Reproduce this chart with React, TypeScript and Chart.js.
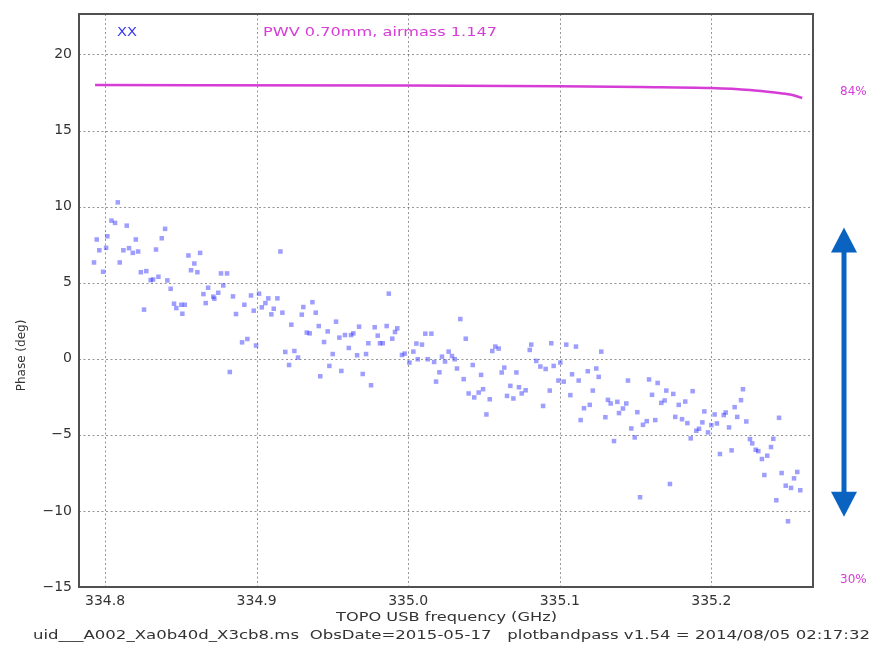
import { useEffect, useRef } from 'react';
import { Chart, registerables } from 'chart.js';

Chart.register(...registerables);

// XX-polarisation bandpass phase per channel
const FREQ_GHZ = [
  334.8084, 334.8042, 334.8066, 334.8143, 334.8396, 334.7945, 334.8015, 334.8203, 334.8374, 334.7962,
  334.8007, 334.8121, 334.8158, 334.8183, 334.8218, 334.8336, 334.7927, 334.8097, 334.7987, 334.8236,
  334.8272, 334.8301, 334.8317, 334.8352, 334.8411, 334.8433, 334.8550, 334.8627, 334.8589, 334.8567,
  334.8609, 334.8680, 334.8649, 334.8664, 334.8257, 334.8455, 334.8470, 334.8503, 334.8526, 334.8510,
  334.9157, 334.8765, 334.8805, 334.8780, 334.8714, 334.8721, 334.8747, 334.8844, 334.8963, 334.9016,
  334.9077, 334.9137, 334.8919, 334.9058, 334.9034, 334.8981, 334.9113, 334.9097, 334.9170, 334.8864,
  334.9298, 334.9308, 334.9368, 334.9390, 334.9229, 334.9410, 334.9331, 334.9350, 334.9469, 334.9445,
  334.8904, 334.8939, 334.8996, 334.9189, 334.9249, 334.9273, 334.9214, 334.9480, 334.9420, 334.8823,
  334.9872, 334.9524, 334.9676, 334.9779, 334.9858, 334.9928, 334.9546, 334.9583, 334.9623, 334.9638,
  334.9799, 334.9895, 334.9913, 334.9737, 334.9814, 334.9832, 334.9608, 334.9502, 334.9663, 334.9722,
  334.9959, 334.9977, 335.0034, 335.0054, 335.0091, 335.0113, 335.0153, 335.0008, 335.0063, 335.0129,
  335.0171, 335.0223, 335.0243, 335.0267, 334.9559, 334.9700, 334.9755, 335.0206, 335.0184,
  335.0344, 335.0380, 335.0289, 335.0307, 335.0322, 335.0426, 335.0366, 335.0481, 335.0399, 335.0436,
  335.0465, 335.0494, 335.0538, 335.0516, 335.0555, 335.0575, 335.0597, 335.0617, 335.0634, 335.0674,
  335.0652, 335.0694, 335.0714, 335.0731, 335.0749, 335.0775, 335.0802, 335.0812, 335.0845, 335.0872,
  335.0907, 335.0890, 335.0934, 335.0944, 335.0960, 335.1004, 335.0991, 335.1026, 335.1043, 335.1081,
  335.1070,
  335.1107, 335.1274, 335.1125, 335.1185, 335.1241, 335.1257, 335.1218, 335.1160, 335.1198, 335.1138,
  335.1301, 335.1318, 335.1336, 335.1380, 335.1391, 335.1417, 335.1439, 335.1358, 335.1450, 335.1472,
  335.1495, 335.1512, 335.1549, 335.1574, 335.1589, 335.1609, 335.1630, 335.1646, 335.1670, 335.1692,
  335.1703, 335.1749, 335.1762, 335.1785, 335.1807, 335.1828, 335.1842, 335.1877, 335.1864, 335.1727,
  335.1530,
  335.1954, 335.1941, 335.1901, 335.1919, 335.1978, 335.2000, 335.2022, 335.2037, 335.2057, 335.2082,
  335.2095, 335.2117, 335.2134, 335.2154, 335.2171, 335.2196, 335.2209, 335.2231, 335.2255, 335.2270,
  335.2293, 335.2310, 335.2334, 335.2350, 335.2369, 335.2394, 335.2409, 335.2429, 335.2447, 335.2464,
  335.2491, 335.2526, 335.2546, 335.2567, 335.2587, 335.2506,
];

const PHASE_DEG = [
  10.28, 9.08, 8.93, 8.75, 8.54, 7.84, 8.05, 7.84, 7.92, 7.13,
  7.29, 7.13, 7.27, 6.96, 7.05, 7.18, 6.33, 6.33, 5.72, 5.69,
  5.76, 5.17, 5.21, 5.39, 5.15, 4.60, 6.79, 6.96, 6.26, 5.82,
  5.69, 4.67, 4.25, 3.66, 3.23, 3.62, 3.33, 3.55, 3.55, 2.96,
  7.05, 5.61, 5.61, 4.82, 4.08, 3.95, 4.34, 4.10, 4.16, 4.28,
  3.97, 3.97, 3.55, 3.66, 3.38, 3.16, 3.29, 2.92, 3.03, 2.94,
  2.90, 3.40, 3.72, 3.03, 2.24, 2.15, 1.72, 1.67, 1.80, 1.10,
  1.08, 1.30, 0.87, 0.45, 0.51, 0.08, -0.41, -0.47, -1.15, -0.87,
  4.28, 2.44, 2.11, 2.07, 2.15, 2.00, 1.39, 1.56, 1.56, 1.67,
  1.52, 1.32, 1.76, 1.02, 1.02, 1.02, 0.71, 0.31, 0.23, 0.31,
  0.25, 0.34, 0.47, 1.00, 0.93, 1.65, 1.65, -0.25, -0.03, -0.03,
  -0.21, 0.14, -0.18, 0.47, -0.80, -1.00, -1.74, -0.89, -1.50,
  2.61, 1.32, 0.18, -0.03, -0.64, -0.41, -1.34, -1.06, -2.28, -2.54,
  -2.22, -2.00, -2.66, -3.66, 0.51, 0.80, 0.67, -0.90, -0.58, -1.78,
  -2.44, -2.61, -0.90, -1.87, -2.28, -2.07, 0.58, 0.93, -0.14, -0.51,
  -0.67, -3.10, -2.09, 1.02, -0.47, -0.25, -1.43, -1.50, 0.93, -1.02,
  -2.39,
  0.80, 0.47, -1.43, -0.82, -0.64, -1.19, -2.09, -3.25, -3.03, -4.03,
  -3.84, -2.70, -2.94, -2.83, -3.57, -3.27, -2.94, -5.41, -1.43, -4.58,
  -5.17, -3.51, -4.34, -4.10, -1.36, -2.37, -4.03, -1.59, -2.90, -2.74,
  -2.09, -2.31, -3.82, -3.03, -3.97, -2.81, -4.23, -2.13, -5.23, -8.23,
  -9.10,
  -3.46, -4.18, -4.73, -4.60, -4.84, -4.36, -3.66, -4.25, -6.26, -3.70,
  -3.53, -4.51, -6.02, -3.18, -3.82, -2.72, -2.00, -4.12, -5.28, -5.56,
  -5.98, -6.07, -6.59, -7.64, -6.37, -5.80, -5.26, -9.30, -3.88, -7.51,
  -8.34, -8.49, -7.86, -7.44, -8.64, -10.68,
];

// Atmospheric transmission model across the band (percent)
const TRANS_FREQ_GHZ = [334.7934, 335.0, 335.1, 335.153, 335.2, 335.2255, 335.242, 335.252, 335.26];
const TRANS_PCT = [84.77, 84.72, 84.63, 84.55, 84.44, 84.22, 83.94, 83.72, 83.34];

const X_TICKS = [334.8, 334.9, 335.0, 335.1, 335.2];
const Y_TICKS = [-15, -10, -5, 0, 5, 10, 15, 20];
const PCT_TICKS = [30, 84];

const X_MIN = 334.7828;
const X_MAX = 335.2671;
const Y_MIN = -15;
const Y_MAX = 22.66;
const PCT_MIN = 29.23;
const PCT_MAX = 92.63;

// Phase span marked by the double-headed arrow beside the plot
const ARROW_SPAN = [8.62, -10.39];

const POL_LABEL = 'XX';
const PWV_LABEL = 'PWV 0.70mm, airmass 1.147';
const X_TITLE = 'TOPO USB frequency (GHz)';
const Y_TITLE = 'Phase (deg)';
const FOOTER = 'uid___A002_Xa0b40d_X3cb8.ms  ObsDate=2015-05-17   plotbandpass v1.54 = 2014/08/05 02:17:32';

const FONT = 'DejaVu Sans, sans-serif';
const MAGENTA = '#d63cd6';
const BLUE_TEXT = '#3a3af5';

function stretchedText(
  ctx: CanvasRenderingContext2D,
  text: string,
  x: number,
  y: number,
  width: number,
  size: number,
  color: string,
) {
  ctx.save();
  ctx.font = `${size}px ${FONT}`;
  ctx.fillStyle = color;
  ctx.textBaseline = 'middle';
  ctx.textAlign = 'left';
  const w = ctx.measureText(text).width;
  ctx.translate(x, y);
  ctx.scale(width / w, 1);
  ctx.fillText(text, 0, 0);
  ctx.restore();
}

// dotted grid at the tick positions, drawn beneath the data
const dottedGrid = {
  id: 'dottedGrid',
  beforeDatasetsDraw(chart: any) {
    const { ctx, chartArea: a, scales } = chart;
    ctx.save();
    ctx.strokeStyle = 'rgba(0,0,0,0.42)';
    ctx.lineWidth = 1;
    ctx.setLineDash([2, 2.5]);
    for (const t of scales.x.ticks) {
      const px = Math.round(scales.x.getPixelForValue(t.value)) + 0.5;
      ctx.beginPath();
      ctx.moveTo(px, a.top);
      ctx.lineTo(px, a.bottom);
      ctx.stroke();
    }
    for (const t of scales.y.ticks) {
      const py = Math.round(scales.y.getPixelForValue(t.value)) + 0.5;
      if (py >= a.bottom - 1) continue;
      ctx.beginPath();
      ctx.moveTo(a.left, py);
      ctx.lineTo(a.right, py);
      ctx.stroke();
    }
    ctx.restore();
  },
};

const decorations = {
  id: 'bandpassDecorations',
  afterDraw(chart: any) {
    const { ctx, chartArea: a, scales } = chart;
    // axes frame
    ctx.save();
    ctx.strokeStyle = '#505050';
    ctx.lineWidth = 2;
    ctx.strokeRect(a.left, a.top, a.right - a.left, a.bottom - a.top);
    ctx.restore();

    stretchedText(ctx, POL_LABEL, a.left + 38, a.top + 19, 20, 13, BLUE_TEXT);
    stretchedText(ctx, PWV_LABEL, a.left + 184, a.top + 19, 234, 13, MAGENTA);
    stretchedText(ctx, X_TITLE, 336, a.bottom + 31, 221, 13, '#333');
    stretchedText(ctx, FOOTER, 33, a.bottom + 49, 837, 13, '#333');

    ctx.save();
    ctx.font = `12px ${FONT}`;
    ctx.fillStyle = '#333';
    ctx.textAlign = 'center';
    ctx.textBaseline = 'middle';
    ctx.translate(22, (a.top + a.bottom) / 2 + 55);
    ctx.rotate(-Math.PI / 2);
    ctx.fillText(Y_TITLE, 0, 0);
    ctx.restore();

    // double-headed arrow
    const y = scales.y;
    const yTop = y.getPixelForValue(ARROW_SPAN[0]);
    const yBot = y.getPixelForValue(ARROW_SPAN[1]);
    const cx = a.right + 31;
    const hw = 13;
    const hh = 25;
    ctx.save();
    ctx.fillStyle = '#0b63c1';
    ctx.fillRect(cx - 2.5, yTop + hh - 1, 5, yBot - yTop - 2 * hh + 2);
    ctx.beginPath();
    ctx.moveTo(cx, yTop);
    ctx.lineTo(cx - hw, yTop + hh);
    ctx.lineTo(cx + hw, yTop + hh);
    ctx.closePath();
    ctx.fill();
    ctx.beginPath();
    ctx.moveTo(cx, yBot);
    ctx.lineTo(cx - hw, yBot - hh);
    ctx.lineTo(cx + hw, yBot - hh);
    ctx.closePath();
    ctx.fill();
    ctx.restore();
  },
};

const minus = (v: number) => (v < 0 ? '\u2212' + Math.abs(v) : String(v));

export default function App() {
  const ref = useRef<HTMLCanvasElement | null>(null);

  useEffect(() => {
    if (!ref.current) return;
    const points = FREQ_GHZ.map((f, i) => ({ x: f, y: PHASE_DEG[i] }));
    const trans = TRANS_FREQ_GHZ.map((f, i) => ({ x: f, y: TRANS_PCT[i] }));

    const chart = new Chart(ref.current, {
      type: 'scatter',
      data: {
        datasets: [
          {
            type: 'line',
            label: 'transmission',
            data: trans,
            yAxisID: 'y2',
            borderColor: MAGENTA,
            borderWidth: 2.5,
            pointRadius: 0,
            cubicInterpolationMode: 'monotone',
            fill: false,
          } as any,
          {
            label: POL_LABEL,
            data: points,
            yAxisID: 'y',
            pointStyle: 'rect',
            pointRadius: 3.2,
            backgroundColor: 'rgba(40,40,255,0.45)',
            borderWidth: 0,
          },
        ],
      },
      options: {
        animation: false,
        responsive: false,
        devicePixelRatio: 1,
        events: [],
        layout: { padding: { top: 14, left: 0, right: 0, bottom: 0 } },
        plugins: {
          legend: { display: false },
          tooltip: { enabled: false },
        },
        scales: {
          x: {
            type: 'linear',
            min: X_MIN,
            max: X_MAX,
            afterBuildTicks: (s: any) => {
              s.ticks = X_TICKS.map((v) => ({ value: v }));
            },
            afterFit: (s: any) => {
              s.height = 59;
              s.paddingLeft = 0;
              s.paddingRight = 0;
            },
            ticks: {
              callback: (v: any) => Number(v).toFixed(1),
              font: { family: FONT, size: 14 },
              color: '#333',
              padding: 6,
              maxRotation: 0,
              autoSkip: false,
            },
            grid: { display: false, drawTicks: false },
            border: { display: false },
          },
          y: {
            type: 'linear',
            position: 'left',
            min: Y_MIN,
            max: Y_MAX,
            afterBuildTicks: (s: any) => {
              s.ticks = Y_TICKS.map((v) => ({ value: v }));
            },
            afterFit: (s: any) => {
              s.width = 79;
              s.paddingTop = 0;
              s.paddingBottom = 0;
            },
            ticks: {
              callback: (v: any) => minus(Number(v)),
              font: { family: FONT, size: 14 },
              color: '#333',
              padding: 7,
            },
            grid: { display: false, drawTicks: false },
            border: { display: false },
          },
          y2: {
            type: 'linear',
            position: 'right',
            min: PCT_MIN,
            max: PCT_MAX,
            afterBuildTicks: (s: any) => {
              s.ticks = PCT_TICKS.map((v) => ({ value: v }));
            },
            afterFit: (s: any) => {
              s.width = 63;
              s.paddingTop = 0;
              s.paddingBottom = 0;
            },
            ticks: {
              callback: (v: any) => `${v}%`,
              font: { family: FONT, size: 12 },
              color: MAGENTA,
              padding: 27,
            },
            grid: { display: false, drawTicks: false },
            border: { display: false },
          },
        },
      },
      plugins: [dottedGrid, decorations],
    });

    return () => chart.destroy();
  }, []);

  return (
    <div style={{ position: 'fixed', left: 0, top: 0, width: 876, height: 646, background: '#fff' }}>
      <canvas ref={ref} width={876} height={646} style={{ width: 876, height: 646, display: 'block' }} />
    </div>
  );
}
